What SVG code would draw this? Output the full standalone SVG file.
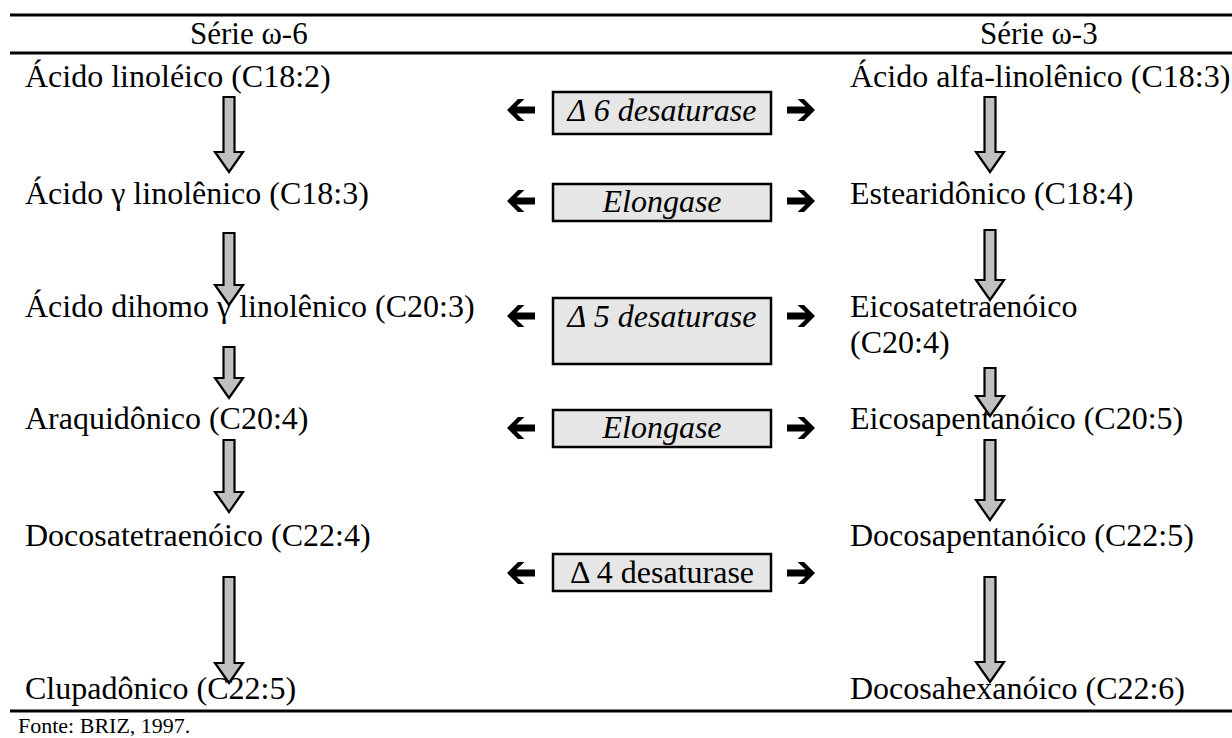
<svg xmlns="http://www.w3.org/2000/svg" width="1232" height="738" viewBox="0 0 1232 738" font-family="'Liberation Serif', 'DejaVu Serif', serif">
<style>
text{font-family:'Liberation Serif','DejaVu Serif',serif;font-size:32px;fill:#000}
.hd{font-size:31px}
.it{font-style:italic}
.src{font-size:22px}
.rule{stroke:#000;stroke-width:2.8}
.box{fill:#e6e6e6;stroke:#000;stroke-width:2.5}
.down{fill:#c0c0c0;stroke:#000;stroke-width:2.2;stroke-linejoin:miter}
.harrow{fill:#000}
</style>
<defs>
<path id="la" d="M0,0 L11,-11 L17.5,-11 L9.5,-3.5 L28,-3.5 L28,3.5 L9.5,3.5 L17.5,11 L11,11 Z"/>
<path id="ra" d="M0,0 L-11,-11 L-17.5,-11 L-9.5,-3.5 L-28,-3.5 L-28,3.5 L-9.5,3.5 L-17.5,11 L-11,11 Z"/>
</defs>
<g id="rules">
<line class="rule" x1="10" y1="15" x2="1232" y2="15"/>
<line class="rule" x1="10" y1="53" x2="1232" y2="53"/>
<line class="rule" x1="10" y1="711" x2="1232" y2="711"/>
</g>
<g id="headers">
<text class="hd" x="190" y="44">Série ω-6</text>
<text class="hd" x="980" y="44">Série ω-3</text>
</g>
<g id="w6">
<text id="n6a" x="25" y="87">Ácido linoléico (C18:2)</text>
<text id="n6b" x="25" y="204">Ácido γ linolênico (C18:3)</text>
<text id="n6c" x="25" y="317">Ácido dihomo γ linolênico (C20:3)</text>
<text id="n6d" x="25" y="429">Araquidônico (C20:4)</text>
<text id="n6e" x="25" y="546">Docosatetraenóico (C22:4)</text>
<text id="n6f" x="25" y="699">Clupadônico (C22:5)</text>
</g>
<g id="w3">
<text id="n3a" x="850" y="87">Ácido alfa-linolênico (C18:3)</text>
<text id="n3b" x="850" y="204">Estearidônico (C18:4)</text>
<text id="n3c" x="850" y="317">Eicosatetraenóico</text>
<text x="850" y="353">(C20:4)</text>
<text id="n3d" x="850" y="429">Eicosapentanóico (C20:5)</text>
<text id="n3e" x="850" y="546">Docosapentanóico (C22:5)</text>
<text id="n3f" x="850" y="699">Docosahexanóico (C22:6)</text>
</g>
<g id="enzymes">
<g id="e1"><rect class="box" x="553" y="92" width="218" height="42"/><text class="it" x="662" y="121" text-anchor="middle">Δ 6 desaturase</text></g>
<g id="e2"><rect class="box" x="553" y="184" width="218" height="37"/><text class="it" x="662" y="212" text-anchor="middle">Elongase</text></g>
<g id="e3"><rect class="box" x="553" y="298" width="218" height="66"/><text class="it" x="662" y="327" text-anchor="middle">Δ 5 desaturase</text></g>
<g id="e4"><rect class="box" x="553" y="410" width="218" height="37"/><text class="it" x="662" y="438" text-anchor="middle">Elongase</text></g>
<g id="e5"><rect class="box" x="553" y="554" width="218" height="37"/><text x="662" y="583" text-anchor="middle">Δ 4 desaturase</text></g>
</g>
<g id="connectors">
<use href="#la" class="harrow" x="507" y="110"/><use href="#ra" class="harrow" x="815" y="110"/>
<use href="#la" class="harrow" x="507" y="201"/><use href="#ra" class="harrow" x="815" y="201"/>
<use href="#la" class="harrow" x="507" y="316"/><use href="#ra" class="harrow" x="815" y="316"/>
<use href="#la" class="harrow" x="507" y="428"/><use href="#ra" class="harrow" x="815" y="428"/>
<use href="#la" class="harrow" x="507" y="573"/><use href="#ra" class="harrow" x="815" y="573"/>
<path class="down" d="M223.5,97 H234.5 V152 H243 L229,172 L215,152 H223.5 Z"/>
<path class="down" d="M223.5,233 H234.5 V285 H243 L229,305 L215,285 H223.5 Z"/>
<path class="down" d="M223.5,347 H234.5 V378 H243 L229,398 L215,378 H223.5 Z"/>
<path class="down" d="M223.5,440 H234.5 V492 H243 L229,512 L215,492 H223.5 Z"/>
<path class="down" d="M223.5,577 H234.5 V663 H243 L229,683 L215,663 H223.5 Z"/>
<path class="down" d="M984.5,97 H995.5 V152 H1004 L990,172 L976,152 H984.5 Z"/>
<path class="down" d="M984.5,230 H995.5 V280 H1004 L990,300 L976,280 H984.5 Z"/>
<path class="down" d="M984.5,368 H995.5 V396 H1004 L990,416 L976,396 H984.5 Z"/>
<path class="down" d="M984.5,440 H995.5 V500 H1004 L990,520 L976,500 H984.5 Z"/>
<path class="down" d="M984.5,577 H995.5 V662 H1004 L990,682 L976,662 H984.5 Z"/>
</g>
<text class="src" x="18" y="733">Fonte: BRIZ, 1997.</text>
</svg>
